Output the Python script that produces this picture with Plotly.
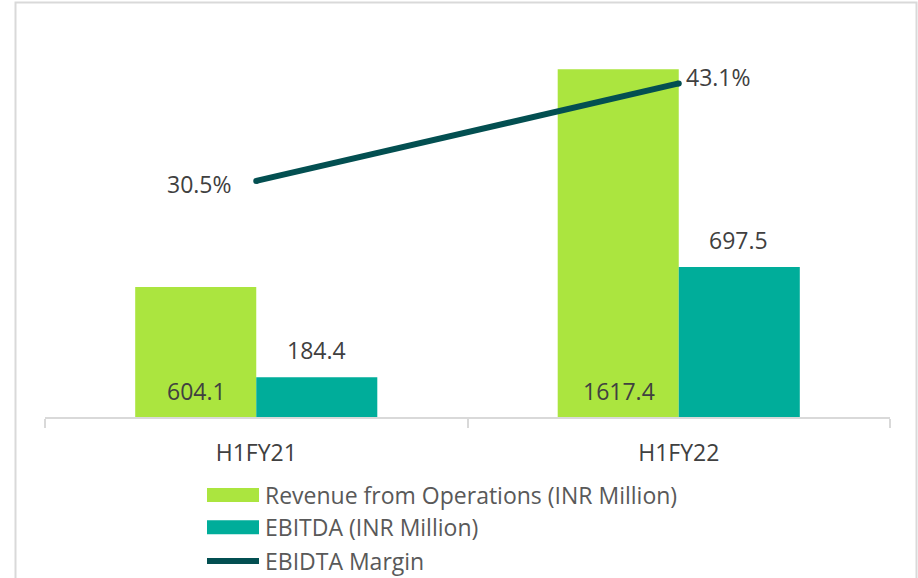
import plotly.graph_objects as go

# data
periods = ["H1FY21", "H1FY22"]
revenue = [604.1, 1617.4]          # INR Million
ebitda = [184.4, 697.5]            # INR Million
margin = [30.5, 43.1]              # %

series_names = [
    "Revenue from Operations (INR Million)",
    "EBITDA (INR Million)",
    "EBIDTA Margin",
]

GREEN = "#ABE53F"
TEAL = "#00AD9A"
DARK = "#034F51"
TXT = "#404040"
GRID = "#D9D9D9"
FONT = "'Open Sans', Lato, sans-serif"

W, H = 918, 578
ML, MR, MT, MB = 45, 28, 30, 160.5
PW, PH = W - ML - MR, H - MT - MB


def px(x):
    return (x - ML) / PW


def py(y):
    return (H - MB - y) / PH


fig = go.Figure()
fig.add_trace(go.Bar(x=periods, y=revenue, name=series_names[0],
                     marker=dict(color=GREEN, line=dict(width=0))))
fig.add_trace(go.Bar(x=periods, y=ebitda, name=series_names[1],
                     marker=dict(color=TEAL, line=dict(width=0))))
fig.add_trace(go.Scatter(x=periods, y=margin, name=series_names[2], yaxis="y2",
                         mode="lines+markers",
                         line=dict(color=DARK, width=6),
                         marker=dict(color=DARK, size=6)))

annotations = []
# revenue labels sit at the bar base, ebitda labels above the bar
for p, v in zip(periods, revenue):
    annotations.append(dict(x=p, y=0, text=f"{v:.1f}", showarrow=False,
                            xshift=-60, yshift=8, yanchor="bottom",
                            font=dict(size=23, color=TXT, family=FONT)))
for p, v in zip(periods, ebitda):
    annotations.append(dict(x=p, y=v, text=f"{v:.1f}", showarrow=False,
                            xshift=60, yshift=9, yanchor="bottom",
                            font=dict(size=23, color=TXT, family=FONT)))
annotations.append(dict(x=periods[0], y=margin[0], yref="y2", text=f"{margin[0]:.1f}%",
                        showarrow=False, xanchor="right", xshift=-22, yshift=-3,
                        font=dict(size=23, color=TXT, family=FONT)))
annotations.append(dict(x=periods[1], y=margin[1], yref="y2", text=f"{margin[1]:.1f}%",
                        showarrow=False, xanchor="left", xshift=5, yshift=6,
                        font=dict(size=23, color=TXT, family=FONT)))

# hand-built legend (wide swatches like the original)
shapes = [dict(type="rect", xref="paper", yref="paper",
               x0=px(15.5), x1=px(916.5), y0=py(2.5), y1=py(600),
               line=dict(color=GRID, width=2), fillcolor="rgba(0,0,0,0)", layer="below")]
rows = [495.5, 528, 561.7]
for i, (name, yy) in enumerate(zip(series_names, rows)):
    if i < 2:
        shapes.append(dict(type="rect", xref="paper", yref="paper",
                           x0=px(207), x1=px(259), y0=py(yy + 7), y1=py(yy - 7),
                           fillcolor=[GREEN, TEAL][i], line=dict(width=0)))
    else:
        shapes.append(dict(type="line", xref="paper", yref="paper",
                           x0=px(207), x1=px(259), y0=py(yy), y1=py(yy),
                           line=dict(color=DARK, width=6)))
    annotations.append(dict(xref="paper", yref="paper", x=px(263), y=py(yy),
                            xanchor="left", yanchor="middle", text=name, showarrow=False,
                            font=dict(size=23, color="#595959", family=FONT)))

fig.update_layout(
    width=W, height=H,
    margin=dict(l=ML, r=MR, t=MT, b=MB),
    barmode="group", bargap=0.427, bargroupgap=0,
    showlegend=False,
    plot_bgcolor="white", paper_bgcolor="white",
    font=dict(family=FONT, color=TXT),
    xaxis=dict(showline=True, linecolor=GRID, linewidth=2,
               ticks="outside", tickson="boundaries", ticklen=9, tickcolor=GRID, tickwidth=2,
               ticklabelstandoff=14,
               tickfont=dict(size=23, color=TXT, family=FONT), showgrid=False),
    yaxis=dict(range=[0, 1800], visible=False, showgrid=False, zeroline=False),
    yaxis2=dict(range=[0, 50], overlaying="y", side="right", visible=False,
                showgrid=False, zeroline=False),
    annotations=annotations,
    shapes=shapes,
)

# drop the default page margin so the figure sits at the window's corner
fig.write_html("out.html", config={"displayModeBar": False},
               post_script="document.body.style.margin='0';")
